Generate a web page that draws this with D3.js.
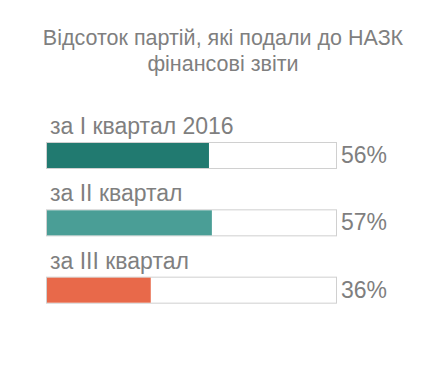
<!DOCTYPE html>
<html>
<head>
<meta charset="utf-8">
<script src="https://cdn.jsdelivr.net/npm/d3@7"></script>
<style>
  body { margin: 0; background: #fff; }
  text { font-family: "Liberation Sans", Arial, sans-serif; fill: #7f7f7f; }
</style>
</head>
<body>
<script>
var titleLines = ["Відсоток партій, які подали до НАЗК", "фінансові звіти"];
var labels = ["за I квартал 2016", "за II квартал", "за III квартал"];
var values = [56, 57, 36];
var colors = ["#217a70", "#4a9e96", "#e8694a"];

var width = 446,
    height = 368;

var svg = d3.select("body").append("svg")
    .attr("width", width)
    .attr("height", height);

svg.selectAll(".title")
    .data(titleLines)
    .enter().append("text")
    .attr("class", "title")
    .attr("x", 223)
    .attr("y", function (d, i) { return 44.5 + i * 26; })
    .attr("text-anchor", "middle")
    .style("font-size", "21.5px")
    .text(function (d) { return d; });

var x = d3.scaleLinear().domain([0, 100]).range([46, 337]);
var y = d3.scaleBand().domain(labels).range([142, 344]).paddingInner(0).paddingOuter(0);
var barH = 27;

var row = svg.selectAll(".row")
    .data(labels)
    .enter().append("g")
    .attr("class", "row")
    .attr("transform", function (d) { return "translate(0," + y(d) + ")"; });

row.append("rect")
    .attr("x", x(0) + 0.5)
    .attr("y", 0.5)
    .attr("width", x(100) - x(0) - 1)
    .attr("height", barH - 1)
    .attr("fill", "#fff")
    .attr("stroke", "#d0d0d0");

row.append("rect")
    .attr("x", x(0) + 1)
    .attr("y", 1)
    .attr("width", function (d, i) { return x(values[i]) - x(0) - 1; })
    .attr("height", barH - 2)
    .attr("fill", function (d, i) { return colors[i]; });

row.append("text")
    .attr("x", 50)
    .attr("y", -8)
    .style("font-size", "23px")
    .text(function (d) { return d; });

row.append("text")
    .attr("x", 341)
    .attr("y", 21)
    .style("font-size", "23px")
    .text(function (d, i) { return values[i] + "%"; });
</script>
</body>
</html>
